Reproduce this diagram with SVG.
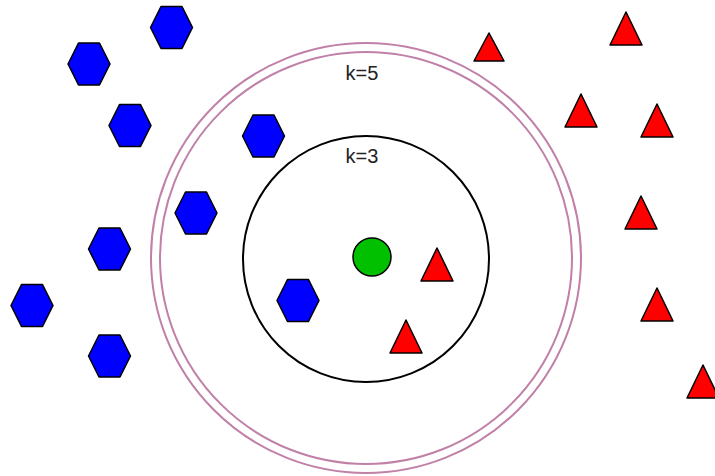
<svg xmlns="http://www.w3.org/2000/svg" width="715" height="476" viewBox="0 0 715 476">
<defs>
<style>
.hex{fill:#0000ff;stroke:#000;stroke-width:1.5;stroke-linejoin:round}
.tri{fill:#ff0000;stroke:#000;stroke-width:1.5;stroke-linejoin:round}
.ring{fill:none;stroke:#c080a8;stroke-width:2}
.lbl{font-family:"Liberation Sans",Arial,sans-serif;font-size:20px;fill:#222;text-anchor:middle}
</style>
<polygon id="h" points="-21,0 -10.5,-21 10.5,-21 21,0 10.5,21 -10.5,21"/>
<polygon id="t" points="0,0 16,33 -16,33"/>
</defs>
<rect width="715" height="476" fill="#fff"/>
<g id="circles">
<circle id="k5-outer" class="ring" cx="366" cy="258" r="215"/>
<circle id="k5-inner" class="ring" cx="366" cy="258" r="206"/>
<circle id="k3" cx="366" cy="259" r="123" fill="none" stroke="#000" stroke-width="2"/>
</g>
<g id="labels">
<text class="lbl" x="362" y="80">k=5</text>
<text class="lbl" x="362" y="163">k=3</text>
</g>
<g id="hexagons">
<use id="hex1" class="hex" href="#h" x="171.5" y="27.5"/>
<use id="hex2" class="hex" href="#h" x="89" y="64"/>
<use id="hex3" class="hex" href="#h" x="130" y="125.5"/>
<use id="hex4" class="hex" href="#h" x="263.5" y="136"/>
<use id="hex5" class="hex" href="#h" x="196" y="213"/>
<use id="hex6" class="hex" href="#h" x="109.5" y="249"/>
<use id="hex7" class="hex" href="#h" x="32" y="305.5"/>
<use id="hex8" class="hex" href="#h" x="109.5" y="356"/>
<use id="hex9" class="hex" href="#h" x="298" y="300.5"/>
</g>
<g id="triangles">
<polygon id="tri1" class="tri" points="489,33 504,61 474,61"/>
<use id="tri2" class="tri" href="#t" x="626" y="12"/>
<use id="tri3" class="tri" href="#t" x="581" y="94"/>
<use id="tri4" class="tri" href="#t" x="657" y="104"/>
<use id="tri5" class="tri" href="#t" x="641" y="196"/>
<use id="tri6" class="tri" href="#t" x="657" y="288"/>
<use id="tri7" class="tri" href="#t" x="703" y="365"/>
<use id="tri8" class="tri" href="#t" x="437" y="248"/>
<use id="tri9" class="tri" href="#t" x="406" y="320"/>
</g>
<g id="query">
<circle cx="372" cy="257" r="19" fill="#00c000" stroke="#000" stroke-width="1.5"/>
</g>
</svg>
